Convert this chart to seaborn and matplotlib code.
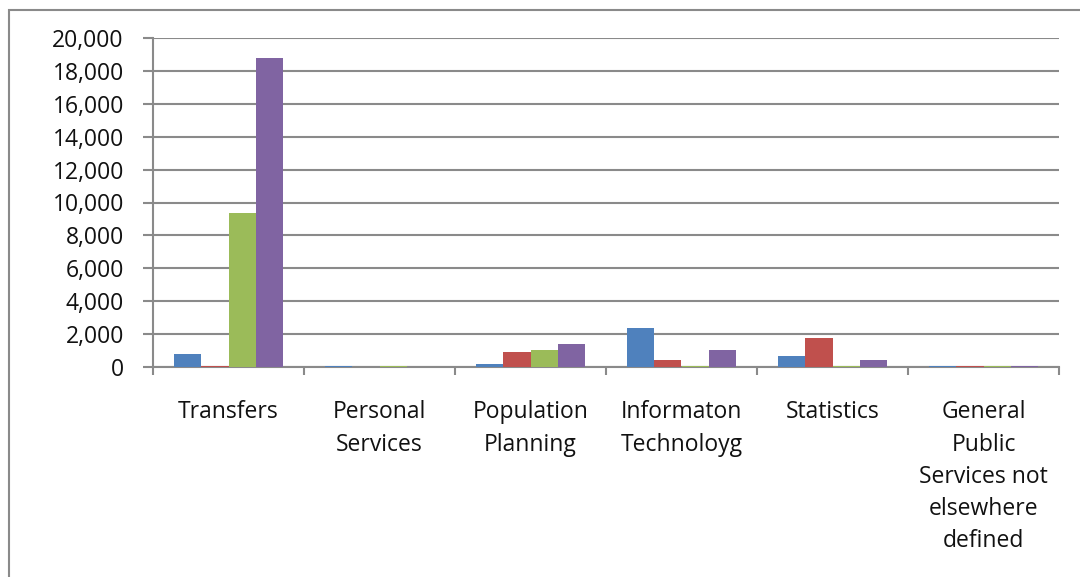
import matplotlib
matplotlib.use("Agg")
import matplotlib.pyplot as plt
from matplotlib.patches import Rectangle
from matplotlib.ticker import FuncFormatter, FixedLocator
import seaborn as sns
import pandas as pd

# Budget categories and the four series plotted for each
categories = [
    "Transfers",
    "Personal\nServices",
    "Population\nPlanning",
    "Informaton\nTechnoloyg",
    "Statistics",
    "General\nPublic\nServices not\nelsewhere\ndefined",
]
series_names = ["Series 1", "Series 2", "Series 3", "Series 4"]
series1 = [770, 70, 180, 2380, 670, 70]
series2 = [70, 0, 900, 420, 1760, 70]
series3 = [9350, 60, 1030, 60, 60, 70]
series4 = [18800, 0, 1400, 1030, 420, 70]
y_ticks = list(range(0, 20001, 2000))

colors = ["#4F81BD", "#C0504D", "#9BBB59", "#8064A2"]

rows = []
for name, vals in zip(series_names, [series1, series2, series3, series4]):
    for cat, v in zip(categories, vals):
        rows.append({"category": cat, "series": name, "value": v})
df = pd.DataFrame(rows)

sns.set_theme(style="white")
plt.rcParams["font.family"] = ["Open Sans", "DejaVu Sans"]

fig = plt.figure(figsize=(10.8, 5.77), dpi=100)
ax = fig.add_axes([153 / 1080, 1 - 367 / 577, (1059 - 153) / 1080, (367 - 38) / 577])

sns.barplot(
    data=df, x="category", y="value", hue="series",
    order=categories, hue_order=series_names, palette=colors,
    width=4 / 5.5, gap=0, errorbar=None, legend=False, ax=ax,
    saturation=1, linewidth=0, zorder=3,
)

grid_gray = "#8A8A8A"
ax.set_ylim(0, 20000)
ax.set_xlim(-0.5, len(categories) - 0.5)
ax.yaxis.set_major_locator(FixedLocator(y_ticks))
ax.yaxis.set_major_formatter(FuncFormatter(lambda v, p: f"{int(v):,}"))
ax.grid(axis="y", color=grid_gray, linewidth=1.5)
ax.set_axisbelow(True)

for s in ["top", "right"]:
    ax.spines[s].set_visible(False)
for s in ["left", "bottom"]:
    ax.spines[s].set_color(grid_gray)
    ax.spines[s].set_linewidth(1.5)

ax.set_xlabel("")
ax.set_ylabel("")

# Category labels centred, tick marks on the category boundaries
ax.set_xticks(range(len(categories)))
ax.set_xticklabels(categories, fontsize=16.5, linespacing=1.46, color="#111111",
                   va="top", ha="center")
ax.set_xticks([i - 0.5 for i in range(len(categories) + 1)], minor=True)
ax.tick_params(axis="x", which="major", length=0, pad=24)
ax.tick_params(axis="x", which="minor", length=6, width=1.5, color=grid_gray, bottom=True)
ax.tick_params(axis="y", which="major", length=7, width=1.5, color=grid_gray,
               labelsize=16.5, labelcolor="#111111", pad=14, left=True)

# Chart-area outline (its right and bottom edges run past the canvas)
top = 1 - 10 / 577
fig.patches.append(Rectangle((9 / 1080, -0.2), 1.2, top + 0.2,
                             transform=fig.transFigure, fill=False,
                             edgecolor=grid_gray, linewidth=1.5, clip_on=False))

fig.savefig("out.png", dpi=100, facecolor="white")
